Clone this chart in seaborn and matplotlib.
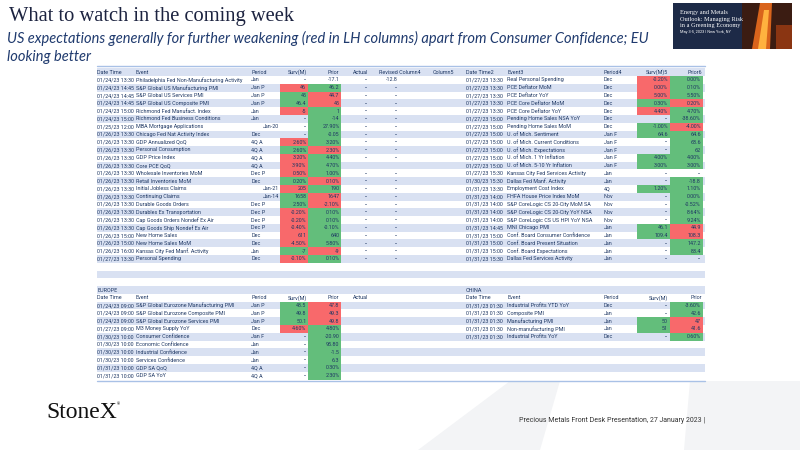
import numpy as np
import matplotlib
matplotlib.use("Agg")
import matplotlib.pyplot as plt
from matplotlib.colors import ListedColormap
from matplotlib.patches import Polygon, Rectangle
from matplotlib import font_manager as fm
import seaborn as sns

sns.set_theme(style="white")
names = {f.name for f in fm.fontManager.ttflist}
NARROW = "Liberation Sans Narrow" if "Liberation Sans Narrow" in names else "Roboto"
plt.rcParams["font.family"] = [NARROW, "DejaVu Sans"]

# ---------------- data ----------------
title = "What to watch in the coming week"
subtitle1 = "US expectations generally for further weakening (red in LH columns) apart from Consumer Confidence; EU"
subtitle2 = "looking better"
footer = "Precious Metals Front Desk Presentation, 27 January 2023 |"

us_header_left = ["Date Time", "Event", "Period", "Surv(M)", "Prior", "Actual", "Revised Column4", "Column5"]
us_header_right = ["Date Time2", "Event3", "Period4", "Surv(M)5", "Prior6"]

usl_time = ["01/24/23 13:30", "01/24/23 14:45", "01/24/23 14:45", "01/24/23 14:45", "01/24/23 15:00",
            "01/24/23 15:00", "01/25/23 12:00", "01/26/23 13:30", "01/26/23 13:30", "01/26/23 13:30",
            "01/26/23 13:30", "01/26/23 13:30", "01/26/23 13:30", "01/26/23 13:30", "01/26/23 13:30",
            "01/26/23 13:30", "01/26/23 13:30", "01/26/23 13:30", "01/26/23 13:30", "01/26/23 13:30",
            "01/26/23 15:00", "01/26/23 15:00", "01/26/23 16:00", "01/27/23 13:30"]
usl_event = ["Philadelphia Fed Non-Manufacturing Activity", "S&P Global US Manufacturing PMI",
             "S&P Global US Services PMI", "S&P Global US Composite PMI", "Richmond Fed Manufact. Index",
             "Richmond Fed Business Conditions", "MBA Mortgage Applications", "Chicago Fed Nat Activity Index",
             "GDP Annualized QoQ", "Personal Consumption", "GDP Price Index", "Core PCE QoQ",
             "Wholesale Inventories MoM", "Retail Inventories MoM", "Initial Jobless Claims", "Continuing Claims",
             "Durable Goods Orders", "Durables Ex Transportation", "Cap Goods Orders Nondef Ex Air",
             "Cap Goods Ship Nondef Ex Air", "New Home Sales", "New Home Sales MoM",
             "Kansas City Fed Manf. Activity", "Personal Spending"]
usl_period = ["Jan", "Jan P", "Jan P", "Jan P", "Jan", "Jan", "Jan-20", "Dec", "4Q A", "4Q A", "4Q A", "4Q A",
              "Dec P", "Dec", "Jan-21", "Jan-14", "Dec P", "Dec P", "Dec P", "Dec P", "Dec", "Dec", "Jan", "Dec"]
usl_surv = ["--", "46", "45", "46.4", "-5", "--", "--", "--", "2.60%", "2.60%", "3.20%", "3.90%", "0.50%",
            "0.20%", "205", "1658", "2.50%", "-0.20%", "-0.20%", "-0.40%", "611", "-4.50%", "-7", "-0.10%"]
usl_prior = ["-17.1", "46.2", "44.7", "45", "1", "-14", "27.90%", "-0.05", "3.20%", "2.30%", "4.40%", "4.70%",
             "1.00%", "0.10%", "190", "1647", "-2.10%", "0.10%", "0.10%", "-0.10%", "640", "5.80%", "-9", "0.10%"]
usl_surv_col = ["", "r", "g", "g", "r", "", "", "", "r", "g", "r", "r", "r", "g", "r", "g", "g", "r", "r", "r",
                "r", "r", "g", "r"]
usl_prior_col = ["", "g", "r", "r", "g", "g", "g", "g", "g", "r", "g", "g", "g", "r", "g", "r", "r", "g", "g", "g",
                 "g", "g", "r", "g"]
usl_actual = ["--"] * 11 + [""] + ["--"] * 12
usl_revised = ["-12.8"] + ["--"] * 10 + [""] + ["--"] * 12

usr_time = ["01/27/23 13:30"] * 5 + ["01/27/23 15:00"] * 7 + ["01/27/23 15:30", "01/30/23 15:30",
            "01/31/23 13:30", "01/31/23 14:00", "01/31/23 14:00", "01/31/23 14:00", "01/31/23 14:00",
            "01/31/23 14:45", "01/31/23 15:00", "01/31/23 15:00", "01/31/23 15:00", "01/31/23 15:30"]
usr_event = ["Real Personal Spending", "PCE Deflator MoM", "PCE Deflator YoY", "PCE Core Deflator MoM",
             "PCE Core Deflator YoY", "Pending Home Sales NSA YoY", "Pending Home Sales MoM",
             "U. of Mich. Sentiment", "U. of Mich. Current Conditions", "U. of Mich. Expectations",
             "U. of Mich. 1 Yr Inflation", "U. of Mich. 5-10 Yr Inflation", "Kansas City Fed Services Activity",
             "Dallas Fed Manf. Activity", "Employment Cost Index", "FHFA House Price Index MoM",
             "S&P CoreLogic CS 20-City MoM SA", "S&P CoreLogic CS 20-City YoY NSA",
             "S&P CoreLogic CS US HPI YoY NSA", "MNI Chicago PMI", "Conf. Board Consumer Confidence",
             "Conf. Board Present Situation", "Conf. Board Expectations", "Dallas Fed Services Activity"]
usr_period = ["Dec"] * 7 + ["Jan F"] * 5 + ["Jan", "Jan", "4Q", "Nov", "Nov", "Nov", "Nov", "Jan", "Jan", "Jan",
              "Jan", "Jan"]
usr_surv = ["-0.20%", "0.00%", "5.00%", "0.30%", "4.40%", "--", "-1.00%", "64.6", "--", "--", "4.00%", "3.00%",
            "--", "--", "1.20%", "--", "--", "--", "--", "46.1", "109.4", "--", "--", "--"]
usr_prior = ["0.00%", "0.10%", "5.50%", "0.20%", "4.70%", "-38.60%", "-4.00%", "64.6", "68.6", "62", "4.00%",
             "3.00%", "--", "-18.8", "1.10%", "0.00%", "-0.52%", "8.64%", "9.24%", "44.9", "108.3", "147.2",
             "83.4", "--"]
usr_surv_col = ["r", "r", "r", "g", "r", "", "g", "g", "", "", "g", "g", "", "", "g", "", "", "", "", "g", "g",
                "", "", ""]
usr_prior_col = ["g", "g", "g", "r", "g", "g", "r", "g", "g", "g", "g", "g", "", "g", "g", "g", "g", "g", "g",
                 "r", "r", "g", "g", ""]

eu_time = ["01/24/23 09:00", "01/24/23 09:00", "01/24/23 09:00", "01/27/23 09:00", "01/30/23 10:00",
           "01/30/23 10:00", "01/30/23 10:00", "01/30/23 10:00", "01/31/23 10:00", "01/31/23 10:00"]
eu_event = ["S&P Global Eurozone Manufacturing PMI", "S&P Global Eurozone Composite PMI",
            "S&P Global Eurozone Services PMI", "M3 Money Supply YoY", "Consumer Confidence",
            "Economic Confidence", "Industrial Confidence", "Services Confidence", "GDP SA QoQ", "GDP SA YoY"]
eu_period = ["Jan P", "Jan P", "Jan P", "Dec", "Jan F", "Jan", "Jan", "Jan", "4Q A", "4Q A"]
eu_surv = ["48.5", "49.8", "50.1", "4.60%", "--", "--", "--", "--", "--", "--"]
eu_prior = ["47.8", "49.3", "49.8", "4.80%", "-20.90", "95.80", "-1.5", "6.3", "0.30%", "2.30%"]
eu_surv_col = ["g", "g", "g", "r", "", "", "", "", "", ""]
eu_prior_col = ["r", "r", "r", "g", "g", "g", "g", "g", "g", "g"]

cn_time = ["01/31/23 01:30"] * 5
cn_event = ["Industrial Profits YTD YoY", "Composite PMI", "Manufacturing PMI", "Non-manufacturing PMI",
            "Industrial Profits YoY"]
cn_period = ["Dec", "Jan", "Jan", "Jan", "Dec"]
cn_surv = ["--", "--", "50", "51", "--"]
cn_prior = ["-3.60%", "42.6", "47", "41.6", "0.60%"]
cn_surv_col = ["", "", "g", "g", ""]
cn_prior_col = ["g", "g", "r", "r", "g"]
section_header = ["Date Time", "Event", "Period", "Surv(M)", "Prior"]

# ---------------- layout ----------------
W, H = 800, 450
Y0, DY = 72.2, 7.78
N_ROWS = 40
TXT = "#1f3864"
LAV = "#d9e1f2"
GREEN, RED = "#63be7b", "#f8696b"
FS = 3.85

fig = plt.figure(figsize=(8, 4.5), dpi=100)
bg = fig.add_axes([0, 0, 1, 1], zorder=0)
bg.set_xlim(0, W); bg.set_ylim(H, 0); bg.axis("off")
top = fig.add_axes([0, 0, 1, 1], zorder=5)
top.set_xlim(0, W); top.set_ylim(H, 0); top.axis("off"); top.patch.set_alpha(0)

def ry(i):
    return Y0 + i * DY

# watermark
wm = "#f3f4f6"
bg.add_patch(Polygon([(510, 381), (560, 381), (540, 450), (418, 450)], closed=True, fc=wm, ec="none"))
bg.add_patch(Polygon([(690, 381), (800, 381), (800, 450), (684, 450)], closed=True, fc=wm, ec="none"))

# row stripes
rows = np.arange(N_ROWS)
bg.barh(ry(rows), 608, left=97, height=DY,
        color=[LAV if r % 2 == 0 else "white" for r in rows], edgecolor="none", zorder=1)
bg.plot([97, 705], [66, 66], color="#a9c1e6", lw=1.0, zorder=2)
bg.plot([97, 705], [381, 381], color="#a9c1e6", lw=1.0, zorder=2)

cmap = ListedColormap([RED, GREEN])

def color_column(x0, x1, first_row, codes):
    n = len(codes)
    ytop = ry(first_row) - DY / 2
    h = n * DY
    hax = fig.add_axes([x0 / W, 1 - (ytop + h) / H, (x1 - x0) / W, h / H], zorder=2)
    vals = np.array([1.0 if c == "g" else (-1.0 if c == "r" else np.nan) for c in codes]).reshape(-1, 1)
    sns.heatmap(vals, ax=hax, cmap=cmap, vmin=-1, vmax=1, cbar=False, mask=np.isnan(vals),
                xticklabels=False, yticklabels=False, linewidths=0)
    hax.patch.set_alpha(0)
    hax.axis("off")

color_column(280, 308, 1, usl_surv_col)
color_column(308, 341, 1, usl_prior_col)
color_column(637, 670, 1, usr_surv_col)
color_column(670, 703, 1, usr_prior_col)
color_column(280, 308, 30, eu_surv_col)
color_column(308, 341, 30, eu_prior_col)
color_column(637, 670, 30, cn_surv_col)
color_column(670, 703, 30, cn_prior_col)

def t(x, y, s, ha="left", size=FS, **kw):
    top.text(x, y, s, ha=ha, va="center", fontsize=size, color=kw.pop("color", TXT), **kw)

# US header
lx = [97, 136, 251, 307, 339.5, 353, 379, 433]
lha = ["left", "left", "left", "right", "right", "left", "left", "left"]
for x, s, a in zip(lx, us_header_left, lha):
    t(x, ry(0), s, a)
rx = [466, 507, 604, 668, 702]
rha = ["left", "left", "left", "right", "right"]
for x, s, a in zip(rx, us_header_right, rha):
    t(x, ry(0), s, a)

for i in range(len(usl_time)):
    y = ry(i + 1)
    t(97, y, usl_time[i]); t(136, y, usl_event[i])
    p = usl_period[i]
    if p.startswith("Jan-"):
        t(279, y, p, "right")
    else:
        t(251, y, p)
    t(306.5, y, usl_surv[i], "right"); t(339.5, y, usl_prior[i], "right")
    t(368, y, usl_actual[i], "right"); t(398, y, usl_revised[i], "right")

for i in range(len(usr_time)):
    y = ry(i + 1)
    t(466, y, usr_time[i]); t(507, y, usr_event[i]); t(604, y, usr_period[i])
    t(668, y, usr_surv[i], "right"); t(701, y, usr_prior[i], "right")

# Europe
t(97, ry(28), "EUROPE")
for x, s, a in zip(lx[:5] + [353], section_header + ["Actual"], lha[:6]):
    t(x, ry(29), s, a)
for i in range(len(eu_time)):
    y = ry(30 + i)
    t(97, y, eu_time[i]); t(136, y, eu_event[i]); t(251, y, eu_period[i])
    t(306.5, y, eu_surv[i], "right"); t(339.5, y, eu_prior[i], "right")

# China
t(466, ry(28), "CHINA")
for x, s, a in zip(rx, section_header, rha):
    t(x, ry(29), s, a)
for i in range(len(cn_time)):
    y = ry(30 + i)
    t(466, y, cn_time[i]); t(507, y, cn_event[i]); t(604, y, cn_period[i])
    t(668, y, cn_surv[i], "right"); t(701, y, cn_prior[i], "right")

# titles
top.text(9, 17, title, fontsize=14.8, color="#1c2340", family=["Liberation Serif", "DejaVu Serif"],
         ha="left", va="center")
for yy, s in [(38, subtitle1), (57, subtitle2)]:
    top.text(7, yy, s, fontsize=10.5, color="#1f3a6e", family=["Lato", "DejaVu Sans"], style="italic",
             ha="left", va="center")

# event logo box (decorative)
bg.add_patch(Rectangle((673, 3), 119, 46, fc="#1d2a47", ec="none", zorder=3))
bg.add_patch(Rectangle((742, 3), 50, 46, fc="#3b1c12", ec="none", zorder=3))
bg.add_patch(Polygon([(752, 49), (760, 3), (772, 3), (770, 49)], closed=True, fc="#d9641c", ec="none", zorder=3))
bg.add_patch(Polygon([(758, 49), (764, 10), (769, 10), (766, 49)], closed=True, fc="#ffb23f", ec="none", zorder=3))
bg.add_patch(Rectangle((776, 25), 16, 24, fc="#8a3512", ec="none", zorder=3))
for yy, s in [(12.5, "Energy and Metals"), (19, "Outlook: Managing Risk"), (25.5, "in a Greening Economy")]:
    top.text(680, yy, s, fontsize=4.5, color="white", family=["Liberation Serif", "DejaVu Serif"],
             ha="left", va="center")
top.text(680, 32, "May 3-5, 2023 | New York, NY", fontsize=2.8, color="white", ha="left", va="center")

# footer
top.text(46, 412, "StoneX", fontsize=17, color="#111111", family=["Liberation Serif", "DejaVu Serif"],
         ha="left", va="center")
top.text(117, 404, "®", fontsize=3, color="#111111", ha="left", va="center")
top.text(705, 421, footer, fontsize=5.05, color="#333333", ha="right", va="center")

fig.savefig("out.png", dpi=100)
